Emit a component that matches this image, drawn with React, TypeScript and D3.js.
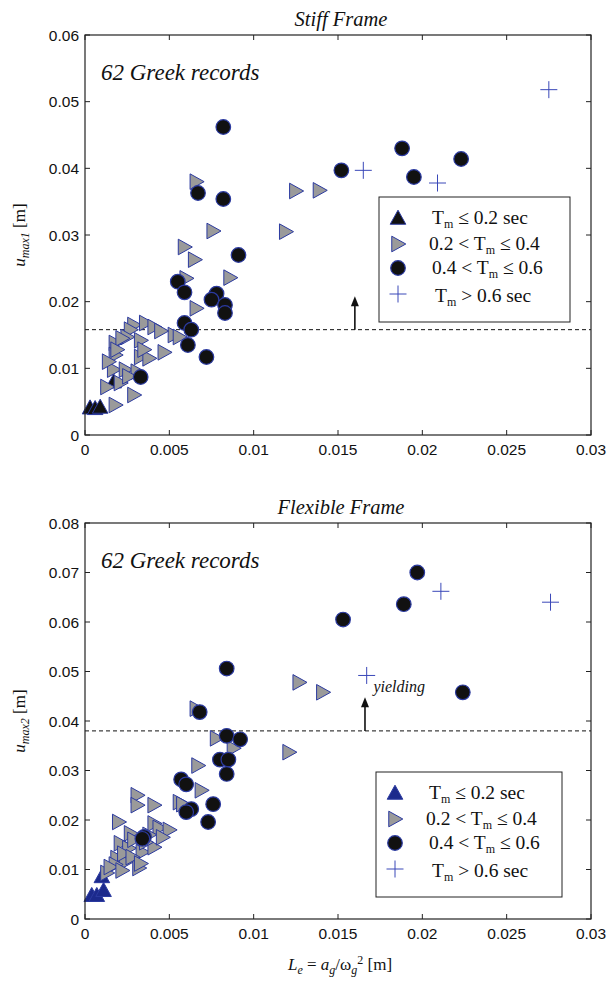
import React from "react";
import * as d3 from "d3";

// ---------- data ----------
const xTicks = [0, 0.005, 0.01, 0.015, 0.02, 0.025, 0.03];
const xTickLabels = ["0", "0.005", "0.01", "0.015", "0.02", "0.025", "0.03"];
const stiffYTicks = [0, 0.01, 0.02, 0.03, 0.04, 0.05, 0.06];
const stiffYTickLabels = ["0", "0.01", "0.02", "0.03", "0.04", "0.05", "0.06"];
const flexYTicks = [0, 0.01, 0.02, 0.03, 0.04, 0.05, 0.06, 0.07, 0.08];
const flexYTickLabels = ["0", "0.01", "0.02", "0.03", "0.04", "0.05", "0.06", "0.07", "0.08"];

const legendLabels = ["≤ 0.2 sec", "0.2 < T_m ≤ 0.4", "0.4 < T_m ≤ 0.6", "> 0.6 sec"];

// Stiff frame
const stiffUp: [number, number][] = [
  [0.0003, 0.0041], [0.0006, 0.004], [0.0009, 0.0042], [0.0017, 0.008],
];
const stiffRight: [number, number][] = [
  [0.0066, 0.038], [0.0076, 0.0306], [0.0059, 0.0282], [0.0065, 0.0263],
  [0.0086, 0.0236], [0.006, 0.0235], [0.0066, 0.019], [0.0053, 0.015],
  [0.0125, 0.0366], [0.0139, 0.0367], [0.0119, 0.0305],
  [0.0029, 0.0165], [0.0036, 0.0168], [0.0041, 0.0162], [0.0027, 0.0158],
  [0.0025, 0.0147], [0.0033, 0.0142], [0.0018, 0.0138], [0.0018, 0.012],
  [0.0047, 0.0124], [0.0056, 0.0147], [0.0033, 0.0117], [0.0038, 0.0115],
  [0.0017, 0.0098], [0.0024, 0.0098], [0.0013, 0.0072], [0.0021, 0.0078],
  [0.0029, 0.006], [0.0018, 0.0045], [0.0022, 0.0145], [0.0031, 0.0095],
  [0.0026, 0.0088], [0.0019, 0.0128], [0.0045, 0.0156], [0.0014, 0.011],
  [0.0035, 0.0128],
];
const stiffCircle: [number, number][] = [
  [0.0082, 0.0462], [0.0067, 0.0363], [0.0082, 0.0354], [0.0091, 0.027],
  [0.0055, 0.023], [0.0059, 0.0214], [0.0078, 0.0212], [0.0075, 0.0203],
  [0.0083, 0.0195], [0.0083, 0.0183], [0.0059, 0.0168], [0.0063, 0.0158],
  [0.0072, 0.0117], [0.0061, 0.0135], [0.0033, 0.0087], [0.0152, 0.0397],
  [0.0188, 0.043], [0.0195, 0.0387], [0.0223, 0.0414],
];
const stiffPlus: [number, number][] = [
  [0.0165, 0.0397], [0.0209, 0.0378], [0.0275, 0.0518],
];

// Flexible frame
const flexUp: [number, number][] = [
  [0.0004, 0.0048], [0.0007, 0.0048], [0.0011, 0.0058], [0.001, 0.0086],
];
const flexRight: [number, number][] = [
  [0.0127, 0.0478], [0.0141, 0.0458], [0.0121, 0.0337], [0.0066, 0.0425],
  [0.0078, 0.0365], [0.0088, 0.0345], [0.0067, 0.031], [0.0069, 0.026],
  [0.0056, 0.0236], [0.0031, 0.025], [0.0031, 0.023], [0.0041, 0.023],
  [0.002, 0.0196], [0.0041, 0.0193], [0.0044, 0.0184], [0.005, 0.018],
  [0.0027, 0.0173], [0.0021, 0.0153], [0.0026, 0.0143], [0.0034, 0.0135],
  [0.0019, 0.0123], [0.0024, 0.0115], [0.0032, 0.0103], [0.0018, 0.011],
  [0.0041, 0.0145], [0.0013, 0.0093], [0.0029, 0.016], [0.0036, 0.0155],
  [0.0023, 0.0132], [0.0038, 0.017], [0.0015, 0.0105], [0.0028, 0.0125],
  [0.0046, 0.0165], [0.0033, 0.0112], [0.0022, 0.0098], [0.0058, 0.0232],
];
const flexCircle: [number, number][] = [
  [0.0197, 0.07], [0.0189, 0.0636], [0.0153, 0.0605], [0.0224, 0.0458],
  [0.0084, 0.0506], [0.0068, 0.0418], [0.0084, 0.037], [0.0092, 0.0363],
  [0.008, 0.0322], [0.0085, 0.0322], [0.0084, 0.0293], [0.0057, 0.0282],
  [0.006, 0.0272], [0.0076, 0.0232], [0.0073, 0.0196], [0.0063, 0.0222],
  [0.006, 0.0216], [0.0035, 0.0166], [0.0034, 0.0162],
];
const flexPlus: [number, number][] = [
  [0.0167, 0.0492], [0.0211, 0.0662], [0.0276, 0.064],
];

// ---------- styles ----------
const EDGE = "#2b3aa0";
const GRAY = "#9a9a9a";
const DARK = "#111111";
const PLUS = "#3a48b8";
const SANS = "'Liberation Sans', Arial, sans-serif";
const SERIF = "'Liberation Serif', 'Times New Roman', serif";

type Pt = [number, number];

function UpTri({ x, y, fill }: { x: number; y: number; fill: string }) {
  const s = 7.8;
  return <path d={`M${x},${y - s}L${x + s},${y + s * 0.8}L${x - s},${y + s * 0.8}Z`} fill={fill} stroke={EDGE} strokeWidth={1} />;
}
function RightTri({ x, y }: { x: number; y: number }) {
  const s = 7.8;
  return <path d={`M${x + s},${y}L${x - s * 0.8},${y - s}L${x - s * 0.8},${y + s}Z`} fill={GRAY} stroke={EDGE} strokeWidth={1} />;
}
function Circ({ x, y }: { x: number; y: number }) {
  return <circle cx={x} cy={y} r={7.3} fill={DARK} stroke={EDGE} strokeWidth={1.2} />;
}
function Plus({ x, y }: { x: number; y: number }) {
  const s = 8.5;
  return <path d={`M${x - s},${y}H${x + s}M${x},${y - s}V${y + s}`} stroke={PLUS} strokeWidth={1} fill="none" />;
}

function Tm() {
  return (
    <>
      T<tspan fontSize={12} dy={4}>m</tspan>
      <tspan dy={-4}> </tspan>
    </>
  );
}

function Legend({ x, y, w, h, upFill }: { x: number; y: number; w: number; h: number; upFill: string }) {
  const mx = x + 19;
  const tx = x + 53;
  const rows = [y + 21, y + 47, y + 71, y + 100];
  const fs = 19.5;
  return (
    <g>
      <rect x={x} y={y} width={w} height={h} fill="white" stroke="#222" strokeWidth={1} />
      <UpTri x={mx} y={rows[0]} fill={upFill} />
      <RightTri x={mx} y={rows[1]} />
      <Circ x={mx} y={rows[2]} />
      <Plus x={mx} y={rows[3] - 3} />
      <text x={tx} y={rows[0] + 6} fontFamily={SERIF} fontSize={fs} fill="#111">
        <Tm />{legendLabels[0]}
      </text>
      <text x={tx - 3} y={rows[1] + 6} fontFamily={SERIF} fontSize={fs} fill="#111">
        0.2 &lt; <Tm />≤ 0.4
      </text>
      <text x={tx} y={rows[2] + 6} fontFamily={SERIF} fontSize={fs} fill="#111">
        0.4 &lt; <Tm />≤ 0.6
      </text>
      <text x={tx + 3} y={rows[3] + 5} fontFamily={SERIF} fontSize={fs} fill="#111">
        <Tm />{legendLabels[3]}
      </text>
    </g>
  );
}

function Panel(props: {
  top: number;
  bottom: number;
  yMax: number;
  yTicks: number[];
  yTickLabels: string[];
  title: string;
  up: Pt[];
  right: Pt[];
  circ: Pt[];
  plus: Pt[];
  upFill: string;
  threshold: number;
  arrowTop: number;
  arrowX: number;
  legend: { x: number; y: number; w: number; h: number };
  ylabelSub: string;
  yielding?: boolean;
}) {
  const left = 85;
  const rightEdge = 591;
  const x = d3.scaleLinear().domain([0, 0.03]).range([left, rightEdge]);
  const y = d3.scaleLinear().domain([0, props.yMax]).range([props.bottom, props.top]);
  const tl = 5;
  const thY = y(props.threshold);
  const arrowTopY = y(props.arrowTop);
  const ax = x(props.arrowX);
  const midY = (props.top + props.bottom) / 2;
  return (
    <g>
      <text x={(left + rightEdge) / 2 + 3} y={props.top - 9} textAnchor="middle" fontFamily={SERIF} fontStyle="italic" fontSize={20.5} fill="#111">
        {props.title}
      </text>
      <rect x={left} y={props.top} width={rightEdge - left} height={props.bottom - props.top} fill="white" stroke="none" />
      {/* ticks */}
      {xTicks.map((t, i) => (
        <g key={"xt" + i}>
          <line x1={x(t)} x2={x(t)} y1={props.bottom} y2={props.bottom - tl} stroke="#222" />
          <line x1={x(t)} x2={x(t)} y1={props.top} y2={props.top + tl} stroke="#222" />
          <text x={x(t)} y={props.bottom + 20} textAnchor="middle" fontFamily={SANS} fontSize={15.5} fill="#111">
            {xTickLabels[i]}
          </text>
        </g>
      ))}
      {props.yTicks.map((t, i) => (
        <g key={"yt" + i}>
          <line x1={left} x2={left + tl} y1={y(t)} y2={y(t)} stroke="#222" />
          <line x1={rightEdge} x2={rightEdge - tl} y1={y(t)} y2={y(t)} stroke="#222" />
          <text x={left - 6} y={y(t) + 5.5} textAnchor="end" fontFamily={SANS} fontSize={15.5} fill="#111">
            {props.yTickLabels[i]}
          </text>
        </g>
      ))}
      <text x={101} y={props.top + 45} fontFamily={SERIF} fontStyle="italic" fontSize={23} fill="#111">
        62 Greek records
      </text>
      {/* threshold */}
      <line x1={left} x2={rightEdge} y1={thY} y2={thY} stroke="#111" strokeWidth={1} strokeDasharray="4,3" />
      <line x1={ax} x2={ax} y1={thY} y2={arrowTopY + 8} stroke="#111" strokeWidth={1.6} />
      <path d={`M${ax},${arrowTopY}L${ax + 4},${arrowTopY + 10}L${ax - 4},${arrowTopY + 10}Z`} fill="#111" />
      {/* markers */}
      {props.up.map((d, i) => <UpTri key={"u" + i} x={x(d[0])} y={y(d[1])} fill={props.upFill} />)}
      {props.right.map((d, i) => <RightTri key={"r" + i} x={x(d[0])} y={y(d[1])} />)}
      {props.circ.map((d, i) => <Circ key={"c" + i} x={x(d[0])} y={y(d[1])} />)}
      {props.plus.map((d, i) => <Plus key={"p" + i} x={x(d[0])} y={y(d[1])} />)}
      {props.yielding && (
        <text x={x(0.0171)} y={y(0.0458)} fontFamily={SERIF} fontStyle="italic" fontSize={16} fill="#111">
          yielding
        </text>
      )}
      <Legend {...props.legend} upFill={props.upFill} />
      {/* frame */}
      <rect x={left} y={props.top} width={rightEdge - left} height={props.bottom - props.top} fill="none" stroke="#222" strokeWidth={1.2} />
      {/* y label */}
      <text transform={`translate(25,${midY}) rotate(-90)`} textAnchor="middle" fontFamily={SERIF} fontSize={17} fill="#111">
        <tspan fontStyle="italic">u</tspan>
        <tspan fontStyle="italic" fontSize={12} dy={4}>{props.ylabelSub}</tspan>
        <tspan dy={-4}> [m]</tspan>
      </text>
    </g>
  );
}

export default function App() {
  return (
    <svg width={610} height={985} style={{ position: "absolute", left: 0, top: 0, background: "white" }}>
      <rect x={0} y={0} width={610} height={985} fill="white" />
      <Panel
        top={35}
        bottom={435}
        yMax={0.06}
        yTicks={stiffYTicks}
        yTickLabels={stiffYTickLabels}
        title="Stiff Frame"
        up={stiffUp}
        right={stiffRight}
        circ={stiffCircle}
        plus={stiffPlus}
        upFill={DARK}
        threshold={0.0158}
        arrowTop={0.0208}
        arrowX={0.016}
        legend={{ x: 379, y: 197, w: 191, h: 125 }}
        ylabelSub="max1"
      />
      <Panel
        top={523}
        bottom={919}
        yMax={0.08}
        yTicks={flexYTicks}
        yTickLabels={flexYTickLabels}
        title="Flexible Frame"
        up={flexUp}
        right={flexRight}
        circ={flexCircle}
        plus={flexPlus}
        upFill="#1c2a8c"
        threshold={0.038}
        arrowTop={0.0448}
        arrowX={0.0166}
        legend={{ x: 376, y: 772, w: 186, h: 125 }}
        ylabelSub="max2"
        yielding
      />
      <text x={340} y={970} textAnchor="middle" fontFamily={SERIF} fontSize={17} fill="#111">
        <tspan fontStyle="italic">L</tspan>
        <tspan fontStyle="italic" fontSize={12} dy={4}>e</tspan>
        <tspan dy={-4}> = </tspan>
        <tspan fontStyle="italic">a</tspan>
        <tspan fontStyle="italic" fontSize={12} dy={4}>g</tspan>
        <tspan dy={-4}>/ω</tspan>
        <tspan fontStyle="italic" fontSize={12} dy={4}>g</tspan>
        <tspan fontSize={12} dy={-10}>2</tspan>
        <tspan dy={6}> [m]</tspan>
      </text>
    </svg>
  );
}
